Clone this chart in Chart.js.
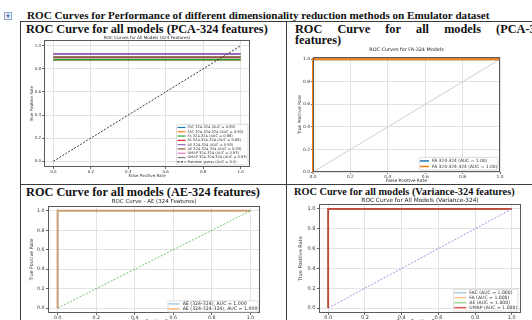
<!DOCTYPE html>
<html>
<head>
<meta charset="utf-8">
<script src="https://cdn.jsdelivr.net/npm/chart.js@4.4.0/dist/chart.umd.min.js"></script>
<style>
  html, body { margin: 0; padding: 0; background: #fff; width: 532px; height: 320px; overflow: hidden; }
  .doc { position: absolute; font-family: "Liberation Serif", "Times New Roman", serif; font-weight: bold; color: #111; white-space: nowrap; line-height: 1; }
  .rule { position: absolute; background: #3c3c3c; }
  canvas { position: absolute; }
  #icon { position: absolute; left: 4px; top: 12px; width: 6px; height: 6px; border: 1px solid #8fa6c8; background: #eef3fb; color: #2f5fb0; font: bold 7px/6px "DejaVu Sans", sans-serif; text-align: center; }
  #t2a { display: flex; justify-content: space-between; }
</style>
</head>
<body>

<div id="icon">+</div>
<div class="doc" id="head">ROC Curves for Performance of different dimensionality reduction methods on Emulator dataset</div>

<!-- table rules -->
<div class="rule" style="left:20px;top:21px;width:512px;height:1px"></div>
<div class="rule" style="left:20px;top:21px;width:1px;height:299px"></div>
<div class="rule" style="left:286px;top:21px;width:1px;height:299px"></div>
<div class="rule" style="left:20px;top:184px;width:512px;height:1px"></div>

<div class="doc" id="t1">ROC Curve for all models (PCA-324 features)</div>
<div class="doc" id="t2a"><span>ROC</span><span>Curve</span><span>for</span><span>all</span><span>models</span><span>(PCA-324</span></div>
<div class="doc" id="t2b">features)</div>
<div class="doc" id="t3">ROC Curve for all models (AE-324 features)</div>
<div class="doc" id="t4">ROC Curve for all models (Variance-324 features)</div>

<canvas id="c1" width="229" height="146" style="left:26px;top:32px"></canvas>
<canvas id="c2" width="210" height="140" style="left:294px;top:44px"></canvas>
<canvas id="c3" width="236" height="131" style="left:28px;top:195px"></canvas>
<canvas id="c4" width="229" height="132" style="left:296px;top:194px"></canvas>

<script>
// ---- data ----
const TICKS = [0, 0.2, 0.4, 0.6, 0.8, 1.0];
const diagFpr = [0, 1];
const diagTpr = [0, 1];

// PCA-324: every model sits on a flat TPR level
const pcaLabels = ['FAC 324-324 (AUC = 0.89)', 'FAC 324-324-324 (AUC = 0.90)', 'FA 324-324 (AUC = 0.88)',
  'FA 324-324-324 (AUC = 0.88)', 'AE 324-324 (AUC = 0.93)', 'AE 324-324-324 (AUC = 0.93)',
  'UMAP 324-324 (AUC = 0.93)', 'UMAP 324-324-324 (AUC = 0.93)'];
const pcaFpr = [0, 1];
const pcaTpr = [[0.90, 0.90], [0.90, 0.90], [0.88, 0.88], [0.88, 0.88],
  [0.93, 0.93], [0.90, 0.90], [0.93, 0.93], [0.93, 0.93]];
const pcaDrawOrder = [4, 3, 2, 5, 0, 1, 6, 7];

// perfect classifiers (FA / AE / Variance panels)
const stepFpr = [0, 0, 1];
const stepTpr = [0, 1, 1];
const faLabels = ['FA 324-324 (AUC = 1.00)', 'FA 324-324-324 (AUC = 1.00)'];
const aeLabels = ['AE (324-324), AUC = 1.000', 'AE (324-324-324), AUC = 1.000'];
const varLabels = ['FAC (AUC = 1.000)', 'FA (AUC = 1.000)', 'AE (AUC = 1.000)', 'UMAP (AUC = 1.000)'];

const TAB = ['#1f77b4', '#ff7f0e', '#2ca02c', '#d62728', '#9467bd', '#8c564b', '#e377c2', '#7f7f7f'];
const FONT = 'DejaVu Sans';

// ---- document text ----
function fitText(id, x, cy, w) {
  const el = document.getElementById(id);
  el.style.fontSize = '20px';
  const f = 20 * w / el.getBoundingClientRect().width;
  el.style.fontSize = f + 'px';
  el.style.left = x + 'px';
  el.style.top = (cy - f / 2) + 'px';
  return f;
}
fitText('head', 27, 15.5, 463);
const f1 = fitText('t1', 26, 29, 242);
fitText('t3', 26, 192, 234);
fitText('t4', 294, 192, 221);
const t2a = document.getElementById('t2a');
t2a.style.fontSize = f1 + 'px'; t2a.style.left = '295px'; t2a.style.width = '253px'; t2a.style.top = (29 - f1 / 2) + 'px';
const t2b = document.getElementById('t2b');
t2b.style.fontSize = f1 + 'px'; t2b.style.left = '295px'; t2b.style.top = (40.5 - f1 / 2) + 'px';

// ---- chart helpers ----
function series(fpr, tpr, label, color, extra) {
  return Object.assign({
    label, data: fpr.map((x, i) => ({ x, y: tpr[i] })),
    borderColor: color, backgroundColor: color, borderWidth: 1.6,
    pointRadius: 0, fill: false, tension: 0, clip: 4
  }, extra || {});
}

const framePlugin = {
  id: 'frame',
  afterDraw(chart) {
    const { ctx, chartArea: a } = chart;
    ctx.save();
    ctx.strokeStyle = '#5a5a5a';
    ctx.lineWidth = 1;
    ctx.strokeRect(Math.round(a.left) + 0.5, Math.round(a.top) + 0.5, Math.round(a.right - a.left) - 1, Math.round(a.bottom - a.top) - 1);
    ctx.restore();
  }
};

const legendPlugin = {
  id: 'rocLegend',
  afterDraw(chart, args, o) {
    const items = chart.data.datasets.filter(d => !d.noLegend);
    const { ctx, chartArea: a } = chart;
    ctx.save();
    ctx.font = o.font + 'px "' + FONT + '"';
    const tw = Math.max(...items.map(d => ctx.measureText(d.label).width));
    const w = o.pad * 2 + o.line + o.gap + tw;
    const h = o.pad * 2 + o.row * items.length;
    const x = a.right - o.mr - w, y = a.bottom - o.mb - h;
    ctx.fillStyle = 'rgba(255,255,255,0.85)';
    ctx.strokeStyle = '#d4d4d4';
    ctx.lineWidth = 0.8;
    ctx.beginPath(); ctx.roundRect(x, y, w, h, 1); ctx.fill(); ctx.stroke();
    items.forEach((d, i) => {
      const cy = y + o.pad + o.row * (i + 0.5);
      ctx.strokeStyle = d.borderColor;
      ctx.lineWidth = o.lw;
      ctx.setLineDash(d.borderDash || []);
      ctx.beginPath(); ctx.moveTo(x + o.pad, cy); ctx.lineTo(x + o.pad + o.line, cy); ctx.stroke();
      ctx.setLineDash([]);
      ctx.fillStyle = '#333';
      ctx.textBaseline = 'middle';
      ctx.fillText(d.label, x + o.pad + o.line + o.gap, cy);
    });
    ctx.restore();
  }
};

function axis(o, isX) {
  return {
    type: 'linear', min: o.min, max: o.max,
    afterBuildTicks: s => { s.ticks = TICKS.map(v => ({ value: v })); },
    afterFit: s => { if (isX) s.height = o.size; else s.width = o.size; },
    ticks: { color: '#333', padding: o.tickPad, autoSkip: false, maxRotation: 0,
      font: { family: FONT, size: o.tickFont }, callback: v => Number(v).toFixed(1) },
    grid: { color: '#e2e2e2', lineWidth: 1, tickLength: 2, tickColor: '#666' },
    border: { display: false },
    title: { display: true, text: o.title, color: '#333',
      font: { family: FONT, size: o.labelFont, lineHeight: 1.2 }, padding: o.labelPad }
  };
}

function rocChart(id, o) {
  return new Chart(document.getElementById(id), {
    type: 'line',
    data: { datasets: o.datasets },
    options: {
      responsive: false, animation: false, devicePixelRatio: 1,
      layout: { padding: { left: 0, top: 0, bottom: 0, right: o.padR } },
      plugins: {
        legend: { display: false }, tooltip: { enabled: false },
        title: { display: true, text: o.title, color: '#222', fullSize: false,
          font: { family: FONT, size: o.titleFont, weight: 'normal', lineHeight: 1.2 }, padding: o.titlePad },
        rocLegend: o.legend
      },
      scales: { x: axis(o.x, true), y: axis(o.y, false) }
    },
    plugins: [framePlugin, legendPlugin]
  });
}

// ---- panel 1: PCA-324 ----
const p1 = pcaLabels.map((lab, i) => series(pcaFpr, pcaTpr[i], lab, TAB[i], { order: pcaDrawOrder[i] + 1 }));
p1.push(series(diagFpr, diagTpr, 'Random guess (AUC = 0.5)', '#222', { borderWidth: 0.9, borderDash: [2, 1.5], order: 0 }));
rocChart('c1', {
  datasets: p1, padR: 5,
  title: 'ROC Curves for All Models (324 Features)', titleFont: 4.2, titlePad: { top: 2.96, bottom: 0 },
  x: { min: -0.05, max: 1.05, size: 11, tickPad: 0.3, tickFont: 4.0, title: 'False Positive Rate', labelFont: 4.0, labelPad: { bottom: 0.1 } },
  y: { min: -0.05, max: 1.05, size: 18, tickPad: 1, tickFont: 4.0, title: 'True Positive Rate', labelFont: 4.0, labelPad: { top: 3.6 } },
  legend: { font: 3.6, row: 4.3, pad: 1, line: 8, gap: 2, lw: 1.2, mr: 2, mb: 2 }
});

// ---- panel 2: FA-324 ----
rocChart('c2', {
  datasets: [
    series(stepFpr, stepTpr, faLabels[0], TAB[0], { borderWidth: 2, order: 2 }),
    series(stepFpr, stepTpr, faLabels[1], TAB[1], { borderWidth: 2, order: 1 }),
    series(diagFpr, diagTpr, 'diag', '#c9c9c9', { borderWidth: 0.9, noLegend: true, order: 3 })
  ],
  padR: 4,
  title: 'ROC Curves for FA-324 Models', titleFont: 4.9, titlePad: { top: 3.06, bottom: 4.06 },
  x: { min: 0, max: 1, size: 12, tickPad: 0, tickFont: 4.4, title: 'False Positive Rate', labelFont: 4.4, labelPad: { bottom: 0.3 } },
  y: { min: 0, max: 1.02, size: 19, tickPad: 1, tickFont: 4.4, title: 'True Positive Rate', labelFont: 4.4, labelPad: { top: 3.36 } },
  legend: { font: 4.4, row: 5.5, pad: 0.8, line: 9, gap: 3, lw: 1.5, mr: 2, mb: 2 }
});

// ---- panel 3: AE-324 ----
rocChart('c3', {
  datasets: [
    series(stepFpr, stepTpr, aeLabels[0], 'rgba(31,119,180,0.35)', { borderWidth: 2, order: 2 }),
    series(stepFpr, stepTpr, aeLabels[1], 'rgba(255,127,14,0.5)', { borderWidth: 2, order: 1 }),
    series(diagFpr, diagTpr, 'diag', 'rgba(44,160,44,0.65)', { borderWidth: 1, borderDash: [2, 1.5], noLegend: true, order: 0 })
  ],
  padR: 4,
  title: 'ROC Curve - AE (324 Features)', titleFont: 5.5, titlePad: { top: 3.2, bottom: 1.2 },
  x: { min: -0.05, max: 1.05, size: 13, tickPad: 0, tickFont: 4.7, title: 'False Positive Rate', labelFont: 4.7, labelPad: { bottom: 1.0 } },
  y: { min: -0.05, max: 1.05, size: 20, tickPad: 1.5, tickFont: 4.7, title: 'True Positive Rate', labelFont: 4.7, labelPad: { top: 1.2 } },
  legend: { font: 4.7, row: 5, pad: 0.6, line: 11, gap: 3, lw: 1.7, mr: 2, mb: 1 }
});

// ---- panel 4: Variance-324 ----
rocChart('c4', {
  datasets: [
    series(stepFpr, stepTpr, varLabels[0], 'rgba(31,119,180,0.35)', { borderWidth: 1.6, order: 4 }),
    series(stepFpr, stepTpr, varLabels[1], 'rgba(255,127,14,0.45)', { borderWidth: 1.6, order: 3 }),
    series(stepFpr, stepTpr, varLabels[2], 'rgba(44,160,44,0.45)', { borderWidth: 1.6, order: 2 }),
    series(stepFpr, stepTpr, varLabels[3], 'rgba(214,39,40,0.75)', { borderWidth: 1.8, order: 1 }),
    series(diagFpr, diagTpr, 'diag', 'rgba(147,112,219,0.8)', { borderWidth: 1, borderDash: [2, 1.5], noLegend: true, order: 0 })
  ],
  padR: 4,
  title: 'ROC Curve for All Models (Variance-324)', titleFont: 5.8, titlePad: { top: 2.52, bottom: 0.52 },
  x: { min: -0.05, max: 1.05, size: 13, tickPad: 0, tickFont: 5.0, title: 'False Positive Rate', labelFont: 5.0, labelPad: { bottom: 1.0 } },
  y: { min: -0.05, max: 1.05, size: 23, tickPad: 1.5, tickFont: 5.0, title: 'True Positive Rate', labelFont: 5.0, labelPad: { top: 2.0 } },
  legend: { font: 4.6, row: 5, pad: 0.8, line: 12, gap: 3, lw: 1.6, mr: 3, mb: 2 }
});
</script>
</body>
</html>
